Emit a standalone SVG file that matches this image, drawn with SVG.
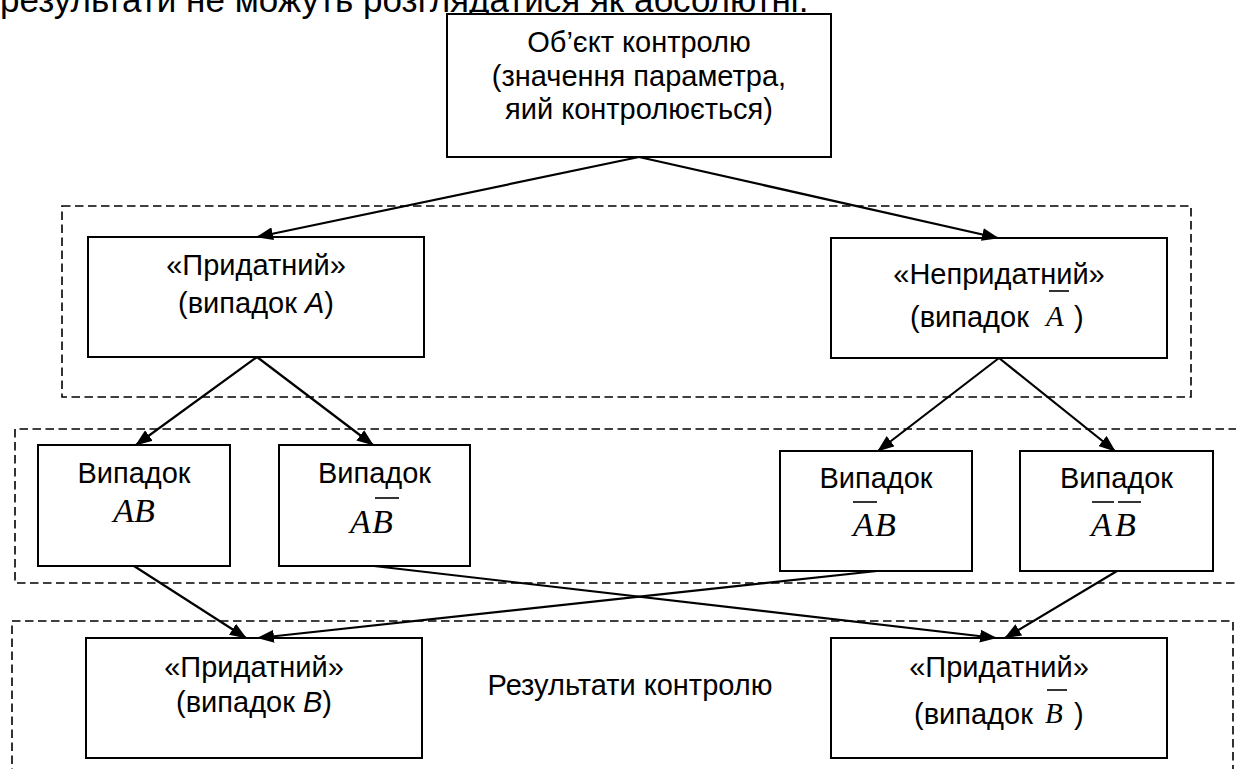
<svg xmlns="http://www.w3.org/2000/svg" width="1236" height="769" viewBox="0 0 1236 769">
<style>
.t{font-family:"Liberation Sans",Arial,sans-serif;font-size:29px;fill:#000;text-anchor:middle}
.ts{font-family:"Liberation Sans",Arial,sans-serif;font-size:29px;fill:#000}
.m{font-family:"Liberation Serif","Times New Roman",serif;font-style:italic;fill:#000}
.box{fill:#fff;stroke:#000;stroke-width:2}
.grp{fill:none;stroke:#000;stroke-width:1.6;stroke-dasharray:8.5 4.5}
.ol{stroke:#000;stroke-width:1.6}
.c{fill:none;stroke:#000;stroke-width:2.2;marker-end:url(#ah)}
</style>
<defs>
<marker id="ah" markerUnits="userSpaceOnUse" markerWidth="17" markerHeight="13" refX="16" refY="6.5" orient="auto">
<path d="M0,0 L17,6.5 L0,13 Z" fill="#000"/>
</marker>
</defs>
<rect width="1236" height="769" fill="#fff"/>
<text class="ts" x="0" y="12" style="font-size:35px">результати не можуть розглядатися як абсолютні.</text>

<g id="groups">
<rect class="grp" x="62" y="206" width="1129" height="191"/>
<path class="grp" d="M1250,429 H15 V583 H1250"/>
<path class="grp" d="M12,790 V621 H1233 V790"/>
</g>

<g id="n-object">
<rect class="box" x="447" y="14" width="384" height="143"/>
<text class="t" x="639" y="52">Об’єкт контролю</text>
<text class="t" x="639" y="86">(значення параметра,</text>
<text class="t" x="639" y="119">яий контролюється)</text>
</g>

<g id="n-good-a">
<rect class="box" x="88" y="237" width="336" height="120"/>
<text class="t" x="256" y="275">«Придатний»</text>
<text class="t" x="256" y="313">(випадок <tspan font-style="italic">A</tspan>)</text>
</g>

<g id="n-bad-a">
<rect class="box" x="831" y="238" width="336" height="120"/>
<text class="t" x="999" y="284">«Непридатний»</text>
<text class="ts" x="910" y="327">(випадок</text>
<text class="m" x="1046" y="326" style="font-size:29px">A</text>
<line class="ol" x1="1049" y1="291" x2="1069" y2="291"/>
<text class="ts" x="1074" y="327">)</text>
</g>

<g id="n-ab">
<rect class="box" x="38" y="445" width="192" height="121"/>
<text class="t" x="134" y="483">Випадок</text>
<text class="m" x="134" y="522" style="font-size:34px;text-anchor:middle">AB</text>
</g>

<g id="n-a-notb">
<rect class="box" x="279" y="445" width="191" height="121"/>
<text class="t" x="374.5" y="483">Випадок</text>
<text class="m" x="350" y="533" style="font-size:34px">A</text>
<text class="m" x="372" y="533" style="font-size:34px">B</text>
<line class="ol" x1="375" y1="498" x2="399" y2="498"/>
</g>

<g id="n-nota-b">
<rect class="box" x="780" y="451" width="192" height="120"/>
<text class="t" x="876" y="488">Випадок</text>
<text class="m" x="853" y="536" style="font-size:34px">A</text>
<text class="m" x="875" y="536" style="font-size:34px">B</text>
<line class="ol" x1="853" y1="502" x2="877" y2="502"/>
</g>

<g id="n-nota-notb">
<rect class="box" x="1020" y="451" width="193" height="120"/>
<text class="t" x="1116.5" y="488">Випадок</text>
<text class="m" x="1091" y="536" style="font-size:34px">A</text>
<text class="m" x="1115" y="536" style="font-size:34px">B</text>
<line class="ol" x1="1092" y1="502" x2="1114" y2="502"/>
<line class="ol" x1="1118" y1="502" x2="1141" y2="502"/>
</g>

<g id="n-good-b">
<rect class="box" x="86" y="638" width="336" height="120"/>
<text class="t" x="254" y="677">«Придатний»</text>
<text class="t" x="254" y="712">(випадок <tspan font-style="italic">B</tspan>)</text>
</g>

<g id="n-results">
<text class="t" x="630" y="695">Результати контролю</text>
</g>

<g id="n-good-notb">
<rect class="box" x="831" y="638" width="336" height="120"/>
<text class="t" x="999" y="677">«Придатний»</text>
<text class="ts" x="914" y="724">(випадок</text>
<text class="m" x="1045" y="723" style="font-size:29px">B</text>
<line class="ol" x1="1047" y1="690" x2="1067" y2="690"/>
<text class="ts" x="1074" y="724">)</text>
</g>

<g id="connectors">
<line class="c" x1="639" y1="157" x2="257" y2="237"/>
<line class="c" x1="639" y1="157" x2="998" y2="238"/>
<line class="c" x1="257" y1="357" x2="136" y2="445"/>
<line class="c" x1="257" y1="357" x2="373" y2="445"/>
<line class="c" x1="999" y1="358" x2="878" y2="451"/>
<line class="c" x1="999" y1="358" x2="1115" y2="451"/>
<line class="c" x1="134" y1="566" x2="246" y2="638"/>
<line class="c" x1="374" y1="566" x2="996" y2="638"/>
<line class="c" x1="877" y1="571" x2="258" y2="638"/>
<line class="c" x1="1117" y1="571" x2="1005" y2="638"/>
</g>
</svg>
